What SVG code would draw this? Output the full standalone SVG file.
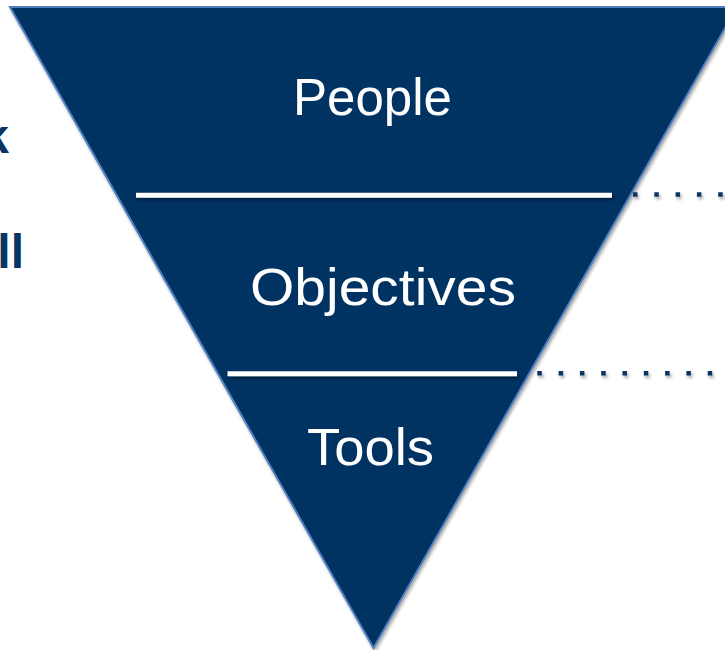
<svg xmlns="http://www.w3.org/2000/svg" width="725" height="650" viewBox="0 0 725 650">
<defs>
<style>
.lbl{font-family:"Liberation Sans",Arial,sans-serif;font-size:52px;fill:#ffffff;text-anchor:middle}
.side{font-family:"Liberation Sans",Arial,sans-serif;font-size:48px;font-weight:bold;fill:#0a3563;text-anchor:end}
.sep{stroke:#ffffff;stroke-width:5;fill:none}
.dots{stroke:#0a3563;stroke-width:4.5;stroke-dasharray:4.5 16.8;fill:none}
</style>
<filter id="sh" filterUnits="userSpaceOnUse" x="0" y="0" width="760" height="660">
<feDropShadow dx="1.5" dy="2.5" stdDeviation="1.5" flood-color="#000" flood-opacity="0.35"/>
</filter>
</defs>
<rect width="725" height="650" fill="#ffffff"/>
<g id="side-text">
<text class="side" x="9" y="153">k</text>
<text class="side" x="24" y="268">ll</text>
</g>
<g id="funnel">
<polygon points="10,7 737,7 373.5,648" fill="#003262" stroke="#4f7fbf" stroke-width="2" stroke-linejoin="miter" filter="url(#sh)"/>
</g>
<g id="connectors" filter="url(#sh)">
<line class="sep" x1="136" y1="195.3" x2="612" y2="195.3"/>
<line class="sep" x1="227.5" y1="373.8" x2="517" y2="373.8"/>
<line class="dots" x1="633" y1="194.5" x2="740" y2="194.5"/>
<line class="dots" x1="537.3" y1="373.3" x2="740" y2="373.3"/>
</g>
<g id="people"><text class="lbl" x="372.5" y="115" textLength="159" lengthAdjust="spacingAndGlyphs">People</text></g>
<g id="objectives"><text class="lbl" x="383" y="305" textLength="266" lengthAdjust="spacingAndGlyphs">Objectives</text></g>
<g id="tools"><text class="lbl" x="370.5" y="465" textLength="127" lengthAdjust="spacingAndGlyphs">Tools</text></g>
</svg>
